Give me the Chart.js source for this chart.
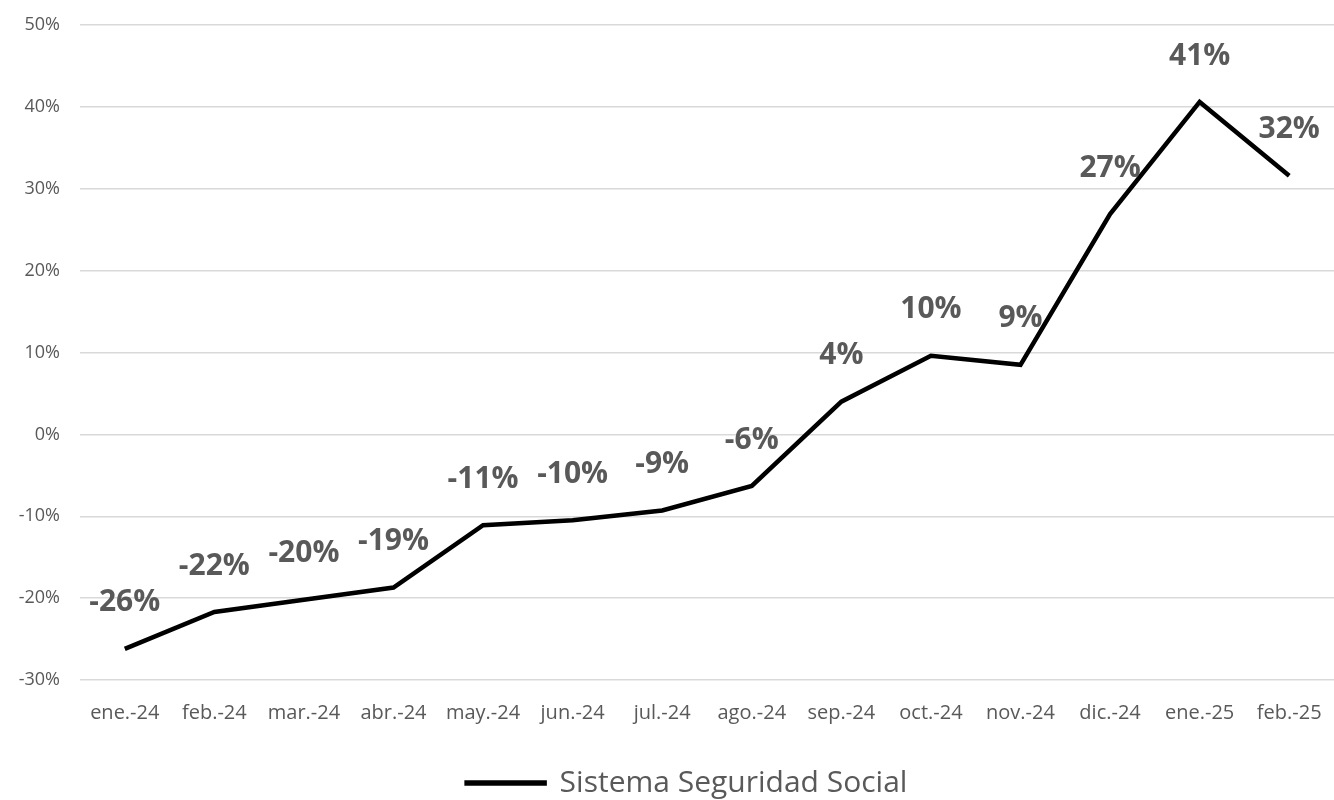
<!DOCTYPE html>
<html>
<head>
<meta charset="utf-8">
<script src="https://cdn.jsdelivr.net/npm/chart.js@4.4.1/dist/chart.umd.min.js"></script>
<style>
  html, body { margin: 0; padding: 0; background: #fff; }
  #wrap { width: 1334px; height: 800px; }
</style>
</head>
<body>
<div id="wrap"><canvas id="myChart"></canvas></div>
<script>
// months shown on the x axis
var months = ['ene.-24', 'feb.-24', 'mar.-24', 'abr.-24', 'may.-24', 'jun.-24', 'jul.-24',
  'ago.-24', 'sep.-24', 'oct.-24', 'nov.-24', 'dic.-24', 'ene.-25', 'feb.-25'];
// variation in %
var variacion = [-26.2, -21.7, -20.2, -18.7, -11.1, -10.5, -9.3, -6.3, 4.0, 9.6, 8.5, 26.9, 40.6, 31.6];
var seriesName = 'Sistema Seguridad Social';
var yTicks = [-30, -20, -10, 0, 10, 20, 30, 40, 50];

var grey = '#595959';

// draws the bold % labels above each point
var pointLabels = {
  id: 'pointLabels',
  afterLayout: function (chart) {
    // legend sits a bit right of centre in the original
    chart.legend.left += 40;
  },
  afterDatasetsDraw: function (chart) {
    var ctx = chart.ctx;
    var meta = chart.getDatasetMeta(0);
    ctx.save();
    ctx.font = 'bold 30px "Open Sans"';
    ctx.fillStyle = grey;
    ctx.textAlign = 'center';
    ctx.textBaseline = 'middle';
    meta.data.forEach(function (pt, i) {
      ctx.fillText(Math.round(variacion[i]) + '%', pt.x, pt.y - 46);
    });
    ctx.restore();
  }
};

var ctx = document.getElementById('myChart').getContext('2d');
var myChart = new Chart(ctx, {
  type: 'line',
  data: {
    labels: months,
    datasets: [{
      label: seriesName,
      data: variacion,
      borderColor: '#000',
      backgroundColor: '#000',
      borderWidth: 4.5,
      pointRadius: 0,
      tension: 0
    }]
  },
  options: {
    responsive: true,
    maintainAspectRatio: false,
    animation: false,
    layout: { padding: { top: 25, right: 0, left: 0, bottom: -8 } },
    plugins: {
      tooltip: { enabled: false },
      legend: {
        position: 'bottom',
        labels: {
          color: grey,
          font: { family: '"Open Sans"', size: 30 },
          boxWidth: 78,
          boxHeight: 1,
          padding: 2
        }
      }
    },
    scales: {
      x: {
        offset: true,
        grid: { display: false },
        border: { display: false },
        afterFit: function (scale) {
          scale.paddingLeft = 0;
          scale.paddingRight = 0;
          scale.height = 86;
        },
        ticks: {
          color: grey,
          font: { family: '"Open Sans"', size: 20 },
          padding: 13,
          maxRotation: 0,
          autoSkip: false
        }
      },
      y: {
        min: -30,
        max: 50,
        afterBuildTicks: function (scale) {
          scale.ticks = yTicks.map(function (v) { return { value: v }; });
        },
        afterFit: function (scale) {
          scale.width = 80;
          scale.paddingTop = 0;
          scale.paddingBottom = 0;
        },
        grid: { color: '#d9d9d9', lineWidth: 1.5, drawTicks: false },
        border: { display: false },
        ticks: {
          color: grey,
          font: { family: '"Open Sans"', size: 18 },
          padding: 20,
          callback: function (v) { return v + '%'; }
        }
      }
    }
  },
  plugins: [pointLabels]
});
</script>
</body>
</html>
